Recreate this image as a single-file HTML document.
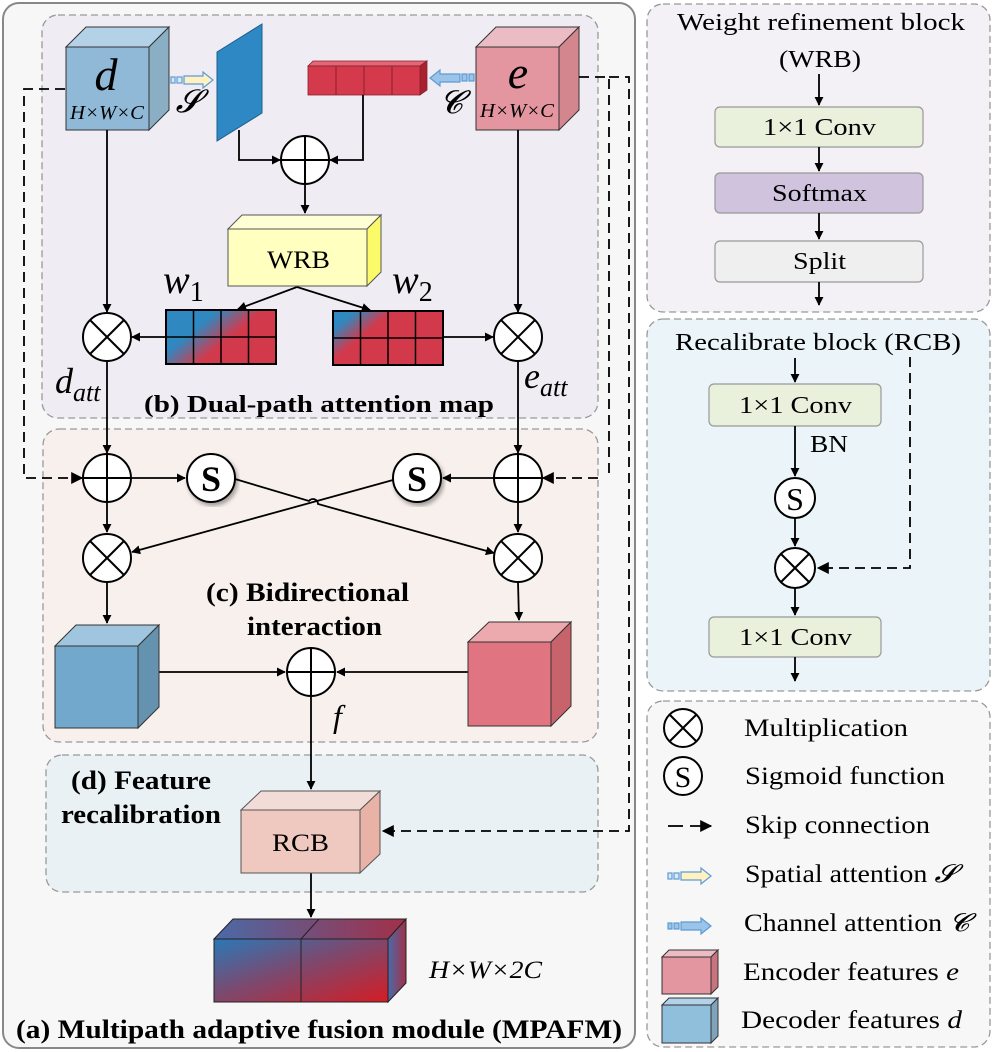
<!DOCTYPE html>
<html><head><meta charset="utf-8"><style>
html,body{margin:0;padding:0;background:#fff;}
svg{display:block;font-family:"Liberation Serif",serif;}
</style></head><body>
<svg width="997" height="1052" viewBox="0 0 997 1052" xmlns="http://www.w3.org/2000/svg">
<defs>
<marker id="ah" viewBox="0 0 10 10" refX="9" refY="5" markerWidth="9" markerHeight="9" markerUnits="userSpaceOnUse" orient="auto"><path d="M0,0 L10,5 L0,10 z" fill="#000"/></marker>
<marker id="ah2" viewBox="0 0 10 10" refX="9" refY="5" markerWidth="12" markerHeight="12" markerUnits="userSpaceOnUse" orient="auto"><path d="M0,0 L10,5 L0,10 z" fill="#000"/></marker>
<linearGradient id="g1" x1="0" y1="0" x2="1" y2="0.6"><stop offset="0.35" stop-color="#2f88c0"/><stop offset="0.65" stop-color="#d23a4c"/></linearGradient>
<linearGradient id="g2" x1="0" y1="0" x2="1" y2="0.6"><stop offset="0.15" stop-color="#2f88c0"/><stop offset="0.4" stop-color="#d23a4c"/></linearGradient>
<linearGradient id="go" x1="0" y1="0" x2="1" y2="1"><stop offset="0" stop-color="#2b78b8"/><stop offset="0.45" stop-color="#7a4a70"/><stop offset="1" stop-color="#d51c24"/></linearGradient>
<linearGradient id="gr" x1="0" y1="0" x2="1" y2="0"><stop offset="0" stop-color="#4a6aa8"/><stop offset="1" stop-color="#a23048"/></linearGradient>
<filter id="sh"><feDropShadow dx="2" dy="3" stdDeviation="2" flood-opacity="0.35"/></filter>
</defs>

<rect x="3" y="3" width="632" height="1045" rx="16" fill="#f7f7f7" stroke="#888" stroke-width="2"/>
<rect x="42" y="15" width="556" height="403" rx="16" fill="#efedf3" stroke="#999" stroke-width="1.3" stroke-dasharray="7,4"/>
<rect x="43" y="429" width="555" height="313" rx="16" fill="#f8f0ec" stroke="#999" stroke-width="1.3" stroke-dasharray="7,4"/>
<rect x="46" y="755" width="552" height="137" rx="16" fill="#e9f1f4" stroke="#999" stroke-width="1.3" stroke-dasharray="7,4"/>

<!-- d cube -->
<polygon points="66,47 86,27 169,27 149,47" fill="#b3d2e8" stroke="#333" stroke-width="1"/>
<polygon points="149,47 169,27 169,110 149,130" fill="#8aaec4" stroke="#333" stroke-width="1"/>
<rect x="66" y="47" width="83" height="83" fill="#90b9d7" stroke="#333" stroke-width="1"/>
<text x="106" y="90" font-size="46" font-style="italic" text-anchor="middle">d</text>
<text x="70" y="119" font-size="20" font-style="italic" textLength="74" lengthAdjust="spacingAndGlyphs">H×W×C</text>

<!-- e cube -->
<polygon points="476,47 496,27 579,27 559,47" fill="#ecbcc4" stroke="#333" stroke-width="1"/>
<polygon points="559,47 579,27 579,110 559,130" fill="#d4868f" stroke="#333" stroke-width="1"/>
<rect x="476" y="47" width="83" height="83" fill="#e396a0" stroke="#333" stroke-width="1"/>
<text x="518" y="88" font-size="46" font-style="italic" text-anchor="middle">e</text>
<text x="480" y="117" font-size="20" font-style="italic" textLength="74" lengthAdjust="spacingAndGlyphs">H×W×C</text>

<g stroke="#5b9bd5" stroke-width="1.2">
<rect x="171" y="77" width="4" height="6" fill="#dbe8f5"/><rect x="177" y="77" width="5" height="6" fill="#dbe8f5"/>
<polygon points="184,76 203,76 203,72 213,80 203,88 203,84 184,84" fill="#fff2c0"/>
</g>
<text x="188" y="112" font-size="32" font-style="italic" text-anchor="middle">𝓢</text>
<polygon points="217,52 262,24 262,113 217,141" fill="#2e88c4" stroke="#1c5f8e" stroke-width="1"/>

<polygon points="308,66 313,61 427,61 420,66" fill="#e36877" stroke="#8b1f2c" stroke-width="0.8"/>
<polygon points="420,66 427,61 427,90 420,95" fill="#a82131" stroke="#8b1f2c" stroke-width="0.8"/>
<rect x="308" y="66" width="112" height="29" fill="#d43a4c" stroke="#8b1f2c" stroke-width="0.8"/>
<line x1="336" y1="66" x2="336" y2="95" stroke="#8b1f2c"/><line x1="364" y1="66" x2="364" y2="95" stroke="#8b1f2c"/><line x1="392" y1="66" x2="392" y2="95" stroke="#8b1f2c"/>
<g stroke="#5b9bd5" stroke-width="1.2">
<rect x="469" y="74" width="5" height="7" fill="#9cc3e8"/><rect x="462" y="74" width="5" height="7" fill="#9cc3e8"/>
<polygon points="460,74 440,74 440,70 430,78 440,86 440,82 460,82" fill="#9cc3e8"/>
</g>
<text x="451" y="113" font-size="32" font-style="italic" text-anchor="middle">𝓒</text>

<g fill="none" stroke="#000" stroke-width="1.8">
<polyline points="239,130 239,160 280,160" marker-end="url(#ah)"/>
<polyline points="363,95 363,160 330,160" marker-end="url(#ah)"/>
<line x1="305" y1="184" x2="305" y2="213" marker-end="url(#ah)"/>
<line x1="297" y1="287" x2="238" y2="309" marker-end="url(#ah)"/>
<line x1="297" y1="287" x2="370" y2="310" marker-end="url(#ah)"/>
<line x1="107" y1="130" x2="107" y2="312" marker-end="url(#ah)"/>
<line x1="518" y1="130" x2="518" y2="312" marker-end="url(#ah)"/>
<line x1="166" y1="337" x2="132" y2="337" marker-end="url(#ah)"/>
<line x1="443" y1="337" x2="493" y2="337" marker-end="url(#ah)"/>
<line x1="107" y1="361" x2="107" y2="453" marker-end="url(#ah)"/>
<line x1="518" y1="361" x2="518" y2="453" marker-end="url(#ah)"/>
</g>
<g stroke="#000" stroke-width="2" fill="#fff">
<circle cx="305" cy="160" r="24"/>
<line x1="281" y1="160" x2="329" y2="160"/><line x1="305" y1="136" x2="305" y2="184"/>
</g>

<polygon points="228,229 242,215 381,215 367,229" fill="#ffffd6" stroke="#555" stroke-width="1"/>
<polygon points="367,229 381,215 381,272 367,286" fill="#fbfb6a" stroke="#555" stroke-width="1"/>
<rect x="228" y="229" width="139" height="57" fill="#ffffc0" stroke="#555" stroke-width="1"/>
<text x="267" y="268" font-size="25" textLength="63" lengthAdjust="spacingAndGlyphs">WRB</text>

<rect x="166" y="310" width="110" height="54" fill="url(#g1)" stroke="#000" stroke-width="2"/>
<g stroke="#000" stroke-width="1.5"><line x1="193.5" y1="310" x2="193.5" y2="364"/><line x1="221" y1="310" x2="221" y2="364"/><line x1="248.5" y1="310" x2="248.5" y2="364"/><line x1="166" y1="337" x2="276" y2="337"/></g>
<rect x="333" y="311" width="110" height="54" fill="url(#g2)" stroke="#000" stroke-width="2"/>
<g stroke="#000" stroke-width="1.5"><line x1="360.5" y1="311" x2="360.5" y2="365"/><line x1="388" y1="311" x2="388" y2="365"/><line x1="415.5" y1="311" x2="415.5" y2="365"/><line x1="333" y1="338" x2="443" y2="338"/></g>
<text x="163" y="293" font-size="40" font-style="italic">w<tspan font-size="28" font-style="normal" dy="8">1</tspan></text>
<text x="392" y="293" font-size="40" font-style="italic">w<tspan font-size="28" font-style="normal" dy="8">2</tspan></text>

<g stroke="#000" stroke-width="2" fill="#fff">
<circle cx="107" cy="337" r="24"/><line x1="90" y1="320" x2="124" y2="354"/><line x1="124" y1="320" x2="90" y2="354"/>
<circle cx="518" cy="337" r="24"/><line x1="501" y1="320" x2="535" y2="354"/><line x1="535" y1="320" x2="501" y2="354"/>
</g>
<text x="55" y="393" font-size="36" font-style="italic">d<tspan font-size="26" dy="8">att</tspan></text>
<text x="524" y="388" font-size="36" font-style="italic">e<tspan font-size="26" dy="8">att</tspan></text>
<text x="144" y="412" font-size="24" font-weight="bold" textLength="350" lengthAdjust="spacingAndGlyphs">(b) Dual-path attention map</text>

<g fill="none" stroke="#000" stroke-width="1.8" stroke-dasharray="10,6">
<polyline points="65,89 24,89 24,478 82,478" marker-end="url(#ah2)"/>
<polyline points="579,77 609,77 609,478"/>
<line x1="598" y1="478" x2="543" y2="478" marker-end="url(#ah2)"/>
<polyline points="609,77 629,77 629,831 383,831" marker-end="url(#ah2)"/>
</g>

<g fill="none" stroke="#000" stroke-width="1.8">
<line x1="131" y1="478" x2="185" y2="478" marker-end="url(#ah)"/>
<line x1="494" y1="478" x2="443" y2="478" marker-end="url(#ah)"/>
<line x1="107" y1="502" x2="107" y2="532" marker-end="url(#ah)"/>
<line x1="518" y1="502" x2="518" y2="532" marker-end="url(#ah)"/>
<path d="M235,479 L309,501 A5,5 0 0 1 318,504 L494,553" marker-end="url(#ah)"/>
<line x1="393" y1="480" x2="132" y2="552" marker-end="url(#ah)"/>
<line x1="107" y1="582" x2="107" y2="623" marker-end="url(#ah)"/>
<line x1="518" y1="582" x2="519" y2="620" marker-end="url(#ah)"/>
<line x1="159" y1="672" x2="285" y2="672" marker-end="url(#ah)"/>
<line x1="468" y1="672" x2="337" y2="672" marker-end="url(#ah)"/>
<line x1="311" y1="696" x2="311" y2="789" marker-end="url(#ah)"/>
<line x1="311" y1="873" x2="311" y2="917" marker-end="url(#ah)"/>
</g>
<g stroke="#000" stroke-width="2" fill="#fff">
<circle cx="107" cy="478" r="24"/><line x1="83" y1="478" x2="131" y2="478"/><line x1="107" y1="454" x2="107" y2="502"/>
<circle cx="518" cy="478" r="24"/><line x1="494" y1="478" x2="542" y2="478"/><line x1="518" y1="454" x2="518" y2="502"/>
<circle cx="107" cy="558" r="24"/><line x1="90" y1="541" x2="124" y2="575"/><line x1="124" y1="541" x2="90" y2="575"/>
<circle cx="518" cy="558" r="24"/><line x1="501" y1="541" x2="535" y2="575"/><line x1="535" y1="541" x2="501" y2="575"/>
<circle cx="311" cy="672" r="24"/><line x1="287" y1="672" x2="335" y2="672"/><line x1="311" y1="648" x2="311" y2="696"/>
<circle cx="211" cy="478" r="24" filter="url(#sh)"/>
<circle cx="417" cy="478" r="24" filter="url(#sh)"/>
</g>
<text x="211" y="491" font-size="36" font-weight="bold" text-anchor="middle">S</text>
<text x="417" y="491" font-size="36" font-weight="bold" text-anchor="middle">S</text>

<polygon points="55,646 76,625 159,625 138,646" fill="#9fc6de" stroke="#333" stroke-width="1"/>
<polygon points="138,646 159,625 159,707 138,728" fill="#6592ae" stroke="#333" stroke-width="1"/>
<rect x="55" y="646" width="83" height="82" fill="#72a8cc" stroke="#333" stroke-width="1"/>
<polygon points="468,642 489,622 571,622 551,642" fill="#eca9ae" stroke="#333" stroke-width="1"/>
<polygon points="551,642 571,622 571,706 551,726" fill="#c8636c" stroke="#333" stroke-width="1"/>
<rect x="468" y="642" width="83" height="84" fill="#e07480" stroke="#333" stroke-width="1"/>

<text x="206" y="601" font-size="26" font-weight="bold" textLength="203" lengthAdjust="spacingAndGlyphs">(c) Bidirectional</text>
<text x="247" y="635" font-size="26" font-weight="bold" textLength="135" lengthAdjust="spacingAndGlyphs">interaction</text>
<text x="333" y="727" font-size="32" font-style="italic">f</text>

<text x="71" y="789" font-size="26" font-weight="bold" textLength="140" lengthAdjust="spacingAndGlyphs">(d) Feature</text>
<text x="61" y="823" font-size="26" font-weight="bold" textLength="160" lengthAdjust="spacingAndGlyphs">recalibration</text>
<polygon points="241,810 261,791 380,791 360,810" fill="#f2dcd7" stroke="#555" stroke-width="1"/>
<polygon points="360,810 380,791 380,854 360,873" fill="#e8b2a6" stroke="#555" stroke-width="1"/>
<rect x="241" y="810" width="119" height="63" fill="#efc9bf" stroke="#555" stroke-width="1"/>
<text x="272" y="851" font-size="25" textLength="57" lengthAdjust="spacingAndGlyphs">RCB</text>

<polygon points="214,939 233,919 406,919 388,939" fill="url(#gr)" stroke="#222" stroke-width="1"/>
<polygon points="388,939 406,919 406,983 388,1002" fill="url(#gr)" stroke="#222" stroke-width="1"/>
<rect x="214" y="939" width="174" height="63" fill="url(#go)" stroke="#222" stroke-width="1"/>
<line x1="301" y1="939" x2="301" y2="1002" stroke="#222"/><line x1="301" y1="939" x2="319" y2="919" stroke="#222"/>
<text x="429" y="978" font-size="25" font-style="italic" textLength="113" lengthAdjust="spacingAndGlyphs">H×W×2C</text>
<text x="16" y="1038" font-size="26" font-weight="bold" textLength="606" lengthAdjust="spacingAndGlyphs">(a) Multipath adaptive fusion module (MPAFM)</text>

<!-- RIGHT -->
<rect x="647" y="4" width="343" height="308" rx="16" fill="#f3f1f5" stroke="#999" stroke-width="1.3" stroke-dasharray="7,4"/>
<g font-size="24">
<text x="677" y="30" textLength="288" lengthAdjust="spacingAndGlyphs">Weight refinement block</text>
<text x="779" y="67" textLength="82" lengthAdjust="spacingAndGlyphs">(WRB)</text>
</g>
<rect x="715" y="107" width="208" height="40" rx="5" fill="#e9f0dc" stroke="#999" stroke-width="1.2"/>
<text x="763" y="135" font-size="24" textLength="113" lengthAdjust="spacingAndGlyphs">1×1 Conv</text>
<rect x="715" y="173" width="208" height="40" rx="5" fill="#cfc3dd" stroke="#999" stroke-width="1.2"/>
<text x="772" y="201" font-size="24" textLength="95" lengthAdjust="spacingAndGlyphs">Softmax</text>
<rect x="715" y="241" width="208" height="41" rx="5" fill="#efefef" stroke="#999" stroke-width="1.2"/>
<text x="793" y="269" font-size="24" textLength="53" lengthAdjust="spacingAndGlyphs">Split</text>
<g fill="none" stroke="#000" stroke-width="1.8">
<line x1="819" y1="74" x2="819" y2="105" marker-end="url(#ah)"/>
<line x1="819" y1="147" x2="819" y2="171" marker-end="url(#ah)"/>
<line x1="819" y1="213" x2="819" y2="239" marker-end="url(#ah)"/>
<line x1="819" y1="282" x2="819" y2="305" marker-end="url(#ah)"/>
</g>

<rect x="647" y="319" width="343" height="372" rx="16" fill="#ebf4f8" stroke="#999" stroke-width="1.3" stroke-dasharray="7,4"/>
<text x="675" y="350" font-size="24" textLength="286" lengthAdjust="spacingAndGlyphs">Recalibrate block (RCB)</text>
<rect x="709" y="384" width="172" height="42" rx="5" fill="#e9f0dc" stroke="#999" stroke-width="1.2"/>
<text x="739" y="413" font-size="24" textLength="113" lengthAdjust="spacingAndGlyphs">1×1 Conv</text>
<text x="810" y="452" font-size="24" textLength="38" lengthAdjust="spacingAndGlyphs">BN</text>
<rect x="709" y="617" width="172" height="40" rx="5" fill="#e9f0dc" stroke="#999" stroke-width="1.2"/>
<text x="739" y="645" font-size="24" textLength="113" lengthAdjust="spacingAndGlyphs">1×1 Conv</text>
<g fill="none" stroke="#000" stroke-width="1.8">
<line x1="795" y1="358" x2="795" y2="382" marker-end="url(#ah)"/>
<line x1="795" y1="426" x2="795" y2="476" marker-end="url(#ah)"/>
<line x1="795" y1="518" x2="795" y2="546" marker-end="url(#ah)"/>
<line x1="795" y1="588" x2="795" y2="615" marker-end="url(#ah)"/>
<line x1="795" y1="657" x2="795" y2="681" marker-end="url(#ah)"/>
<polyline points="910,357 910,568 818,568" stroke-dasharray="10,6" marker-end="url(#ah2)"/>
</g>
<g stroke="#000" stroke-width="2" fill="#fff">
<circle cx="795" cy="498" r="20"/>
<circle cx="795" cy="568" r="20"/><line x1="781" y1="554" x2="809" y2="582"/><line x1="809" y1="554" x2="781" y2="582"/>
</g>
<text x="795" y="510" font-size="32" text-anchor="middle">S</text>

<rect x="647" y="701" width="343" height="346" rx="16" fill="#f7f7f7" stroke="#999" stroke-width="1.3" stroke-dasharray="7,4"/>
<g stroke="#000" stroke-width="2" fill="#fff">
<circle cx="683" cy="728" r="19"/><line x1="670" y1="715" x2="696" y2="741"/><line x1="696" y1="715" x2="670" y2="741"/>
<circle cx="683" cy="776" r="19"/>
</g>
<text x="683" y="787" font-size="30" text-anchor="middle">S</text>
<g fill="none" stroke="#000" stroke-width="1.8">
<line x1="668" y1="826" x2="683" y2="826"/>
<line x1="690" y1="826" x2="711" y2="826" marker-end="url(#ah2)"/>
</g>
<g stroke="#5b9bd5" stroke-width="1.2">
<rect x="668" y="873" width="4" height="6" fill="#dbe8f5"/><rect x="674" y="873" width="5" height="6" fill="#dbe8f5"/>
<polygon points="681,872 701,872 701,868 711,876 701,884 701,880 681,880" fill="#fff2c0"/>
<rect x="668" y="923" width="4" height="6" fill="#9cc3e8"/><rect x="674" y="923" width="5" height="6" fill="#9cc3e8"/>
<polygon points="681,922 701,922 701,918 711,926 701,934 701,930 681,930" fill="#9cc3e8"/>
</g>
<polygon points="662,957 669,950 718,950 711,957" fill="#ecbcc4" stroke="#333" stroke-width="1"/>
<polygon points="711,957 718,950 718,987 711,994" fill="#c8737e" stroke="#333" stroke-width="1"/>
<rect x="662" y="957" width="49" height="37" fill="#e396a0" stroke="#333" stroke-width="1"/>
<polygon points="662,1005 669,998 718,998 711,1005" fill="#b3d2e8" stroke="#333" stroke-width="1"/>
<polygon points="711,1005 718,998 718,1036 711,1043" fill="#7ea3bb" stroke="#333" stroke-width="1"/>
<rect x="662" y="1005" width="49" height="38" fill="#90bfdc" stroke="#333" stroke-width="1"/>
<g font-size="25">
<text x="744" y="736" textLength="164" lengthAdjust="spacingAndGlyphs">Multiplication</text>
<text x="745" y="784" textLength="200" lengthAdjust="spacingAndGlyphs">Sigmoid function</text>
<text x="745" y="833" textLength="185" lengthAdjust="spacingAndGlyphs">Skip connection</text>
<text x="745" y="882" textLength="211" lengthAdjust="spacingAndGlyphs">Spatial attention <tspan font-style="italic">𝓢</tspan></text>
<text x="744" y="931" textLength="225" lengthAdjust="spacingAndGlyphs">Channel attention <tspan font-style="italic">𝓒</tspan></text>
<text x="743" y="980" textLength="216" lengthAdjust="spacingAndGlyphs">Encoder features <tspan font-style="italic">e</tspan></text>
<text x="741" y="1028" textLength="221" lengthAdjust="spacingAndGlyphs">Decoder features <tspan font-style="italic">d</tspan></text>
</g>
</svg>
</body></html>
